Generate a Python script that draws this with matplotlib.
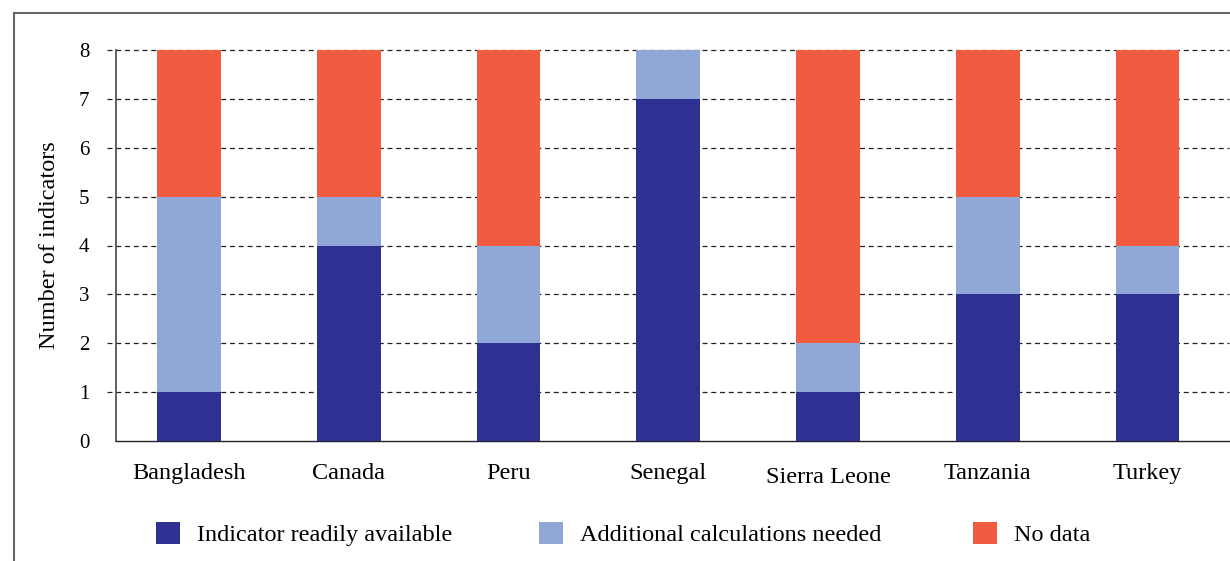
import matplotlib
matplotlib.use("Agg")
import matplotlib.pyplot as plt
from matplotlib.lines import Line2D
from matplotlib.patches import Patch
import numpy as np

countries = ["Bangladesh", "Canada", "Peru", "Senegal", "Sierra Leone", "Tanzania", "Turkey"]
available = [1, 4, 2, 7, 1, 3, 3]
additional = [4, 1, 2, 1, 1, 2, 1]
no_data = [3, 3, 4, 0, 6, 3, 4]
series_names = ["Indicator readily available", "Additional calculations needed", "No data"]
colors = ["#2E3192", "#8FA8D8", "#F15C40"]
yticks = [0, 1, 2, 3, 4, 5, 6, 7, 8]

plt.rcParams['font.family'] = ['Liberation Serif', 'DejaVu Serif']

fig = plt.figure(figsize=(12.3, 5.61), dpi=100)
W, H = 1230, 561
ax = fig.add_axes([116 / W, 1 - 441 / H, (1229 - 116) / W, (441 - 50) / H])

x = np.arange(len(countries))
avail = np.array(available)
add = np.array(additional)
nd = np.array(no_data)
w = 0.4
ax.bar(x, avail, width=w, color=colors[0], zorder=3)
ax.bar(x, add, width=w, bottom=avail, color=colors[1], zorder=3)
ax.bar(x, nd, width=w, bottom=avail + add, color=colors[2], zorder=3)

ax.set_xlim(-0.457, 6.51)
ax.set_ylim(0, 8)

# dashed gridlines extending slightly left of the spine
ax.hlines(yticks[1:], -0.008, 1, transform=ax.get_yaxis_transform(),
          colors="#222222", linestyles=(0, (4, 3)), linewidth=0.9, clip_on=False, zorder=2)

for s in ["top", "right"]:
    ax.spines[s].set_visible(False)
ax.spines["left"].set_color("#555555")
ax.spines["left"].set_linewidth(1.3)
ax.spines["bottom"].set_color("#222222")
ax.spines["bottom"].set_linewidth(1.0)

ax.set_yticks(yticks)
ax.set_yticklabels([str(t) for t in yticks], fontsize=15)
ax.tick_params(axis="y", length=0, pad=19)
ax.set_xticks(x)
ax.set_xticklabels(countries, fontsize=17.5)
ax.tick_params(axis="x", length=0, pad=16)
for lbl in ax.get_xticklabels():
    if lbl.get_text() == "Sierra Leone":
        lbl.set_y(-0.01)
ax.set_ylabel("Number of indicators", fontsize=17.5, labelpad=14)

# legend entries, one per series, placed at the reference positions
legend_x = [156, 539, 973]
for name, c, lx in zip(series_names, colors, legend_x):
    leg = fig.legend([Patch(facecolor=c, edgecolor="none")], [name], loc="center left",
                     bbox_to_anchor=(lx / W, 1 - 534 / H), frameon=False, fontsize=17.5,
                     handlelength=1.0, handleheight=1.0, handletextpad=0.7,
                     borderpad=0, borderaxespad=0)

# outer frame lines (left and top)
fig.add_artist(Line2D([14 / W, 14 / W], [0, 1 - 13 / H], transform=fig.transFigure,
                      color="#666666", linewidth=1.5))
fig.add_artist(Line2D([14 / W, 1], [1 - 13 / H, 1 - 13 / H], transform=fig.transFigure,
                      color="#666666", linewidth=1.5))

fig.savefig("out.png", dpi=100)
